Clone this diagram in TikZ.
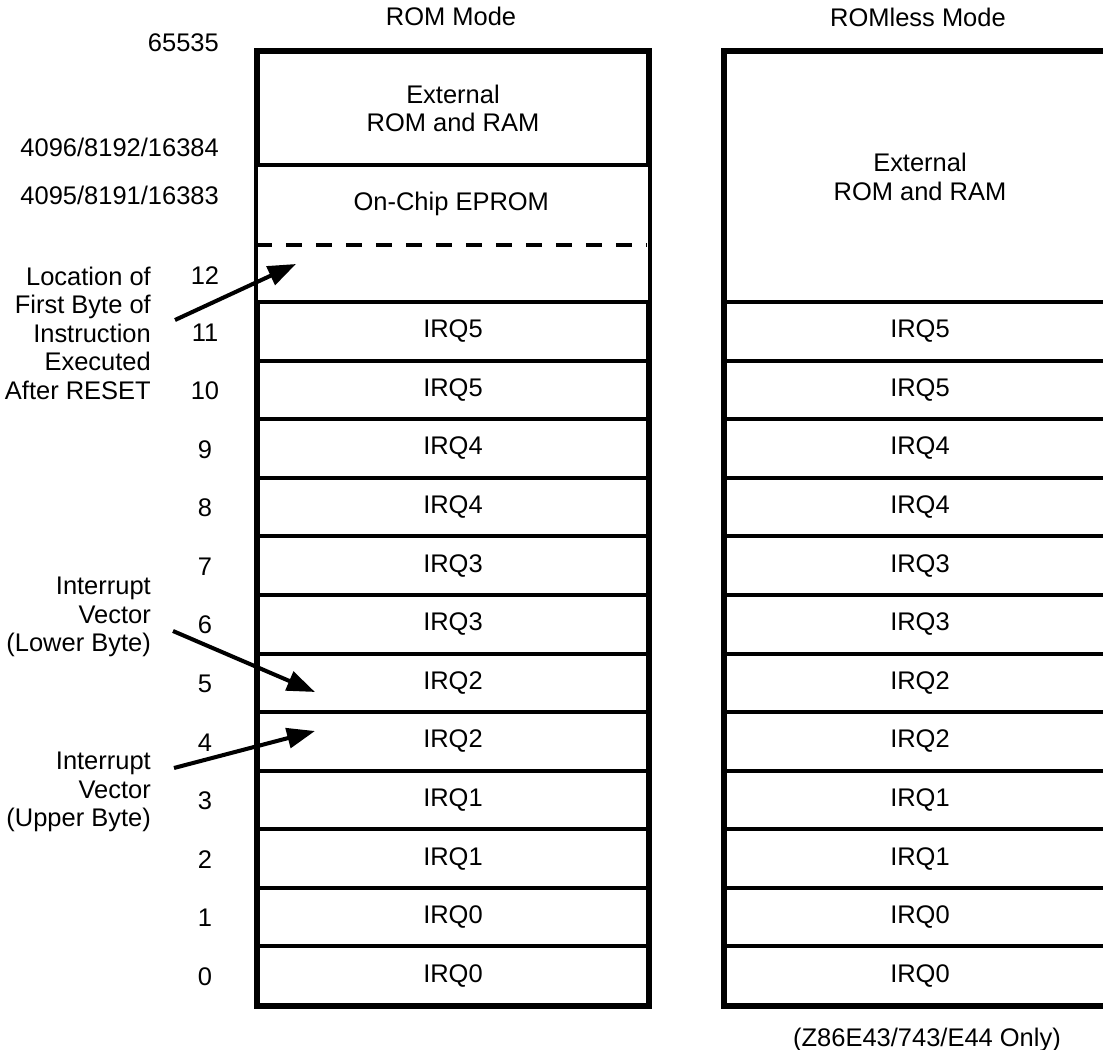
\documentclass[tikz,border=0pt]{standalone}
\usepackage{fontspec}
\setmainfont{Liberation Sans}
\usetikzlibrary{arrows.meta}

\begin{document}
\begin{tikzpicture}[x=0.02cm,y=-0.02cm,
  every node/.style={font=\fontsize{14.5}{16.2}\selectfont},
  cell/.style={draw,line width=2.3pt,minimum width=7.8cm,minimum height=1.1716cm,
    inner sep=0pt,anchor=north west,align=center},
  blank/.style={minimum width=7.8cm,inner sep=0pt,anchor=north west},
  frame/.style={line width=2.8pt},
  num/.style={anchor=center},
  addr/.style={anchor=east},
  note/.style={anchor=east,align=right},
  pointer/.style={line width=2.3pt,-{Triangle[length=0.56cm,width=0.4cm]}}]
\useasboundingbox (0,0) rectangle (1103,1050);
\clip (0,0) rectangle (1103,1050);

% ROM mode column
\node [cell,minimum height=2.26cm] (ext) at (256,50) {External\\ROM and RAM};
\node [blank,minimum height=1.62cm] (eprom) at (256,163) {On-Chip EPROM};
\node [blank,minimum height=1.12cm] (l12) at (256,244) {};

% ROMless mode column
\node [cell,minimum height=5cm] (rext) at (723,50) {External\\ROM and RAM};

\foreach \i/\lab in {0/IRQ0,1/IRQ0,2/IRQ1,3/IRQ1,4/IRQ2,5/IRQ2,
                     6/IRQ3,7/IRQ3,8/IRQ4,9/IRQ4,10/IRQ5,11/IRQ5}{
  \node [cell] (l\i) at (256,{1003-58.58*(\i+1)}) {\lab};
  \node [cell] (r\i) at (723,{1003-58.58*(\i+1)}) {\lab};
  \node [num] (n\i) at (205,{1003-58.58*(\i+0.5)+3}) {\i};
}
\node [num] (n12) at (205,276) {12};

\draw [line width=2.3pt,dash pattern=on 0.32cm off 0.28cm] (eprom.south west) -- (eprom.south east);
\draw [frame] (ext.north west) rectangle (l0.south east);
\draw [frame] (rext.north west) rectangle (r0.south east);

% titles and addresses
\node (romtitle) at (451,16) {ROM Mode};
\node (romlesstitle) at (918,17) {ROMless Mode};
\node [addr] (a65535) at (225,43) {65535};
\node [addr] (a4096) at (225,147) {4096/8192/16384};
\node [addr] (a4095) at (225,195) {4095/8191/16383};
\node (only) at (927,1040) {(Z86E43/743/E44 Only)};

% notes with pointers
\node [note] (first) at (157,333) {Location of\\First Byte of\\Instruction\\Executed\\After RESET};
\node [note] (lower) at (157,617) {Interrupt\\Vector\\(Lower Byte)};
\node [note] (upper) at (157,792) {Interrupt\\Vector\\(Upper Byte)};

\coordinate (firsttail) at (175,320);
\coordinate (firsttip) at (296,264);
\coordinate (lowertail) at (173,631);
\coordinate (lowertip) at (315,692);
\coordinate (uppertail) at (174,768);
\coordinate (uppertip) at (315,731);

\draw [pointer] (firsttail) -- (firsttip);
\draw [pointer] (lowertail) -- (lowertip);
\draw [pointer] (uppertail) -- (uppertip);
\end{tikzpicture}
\end{document}
